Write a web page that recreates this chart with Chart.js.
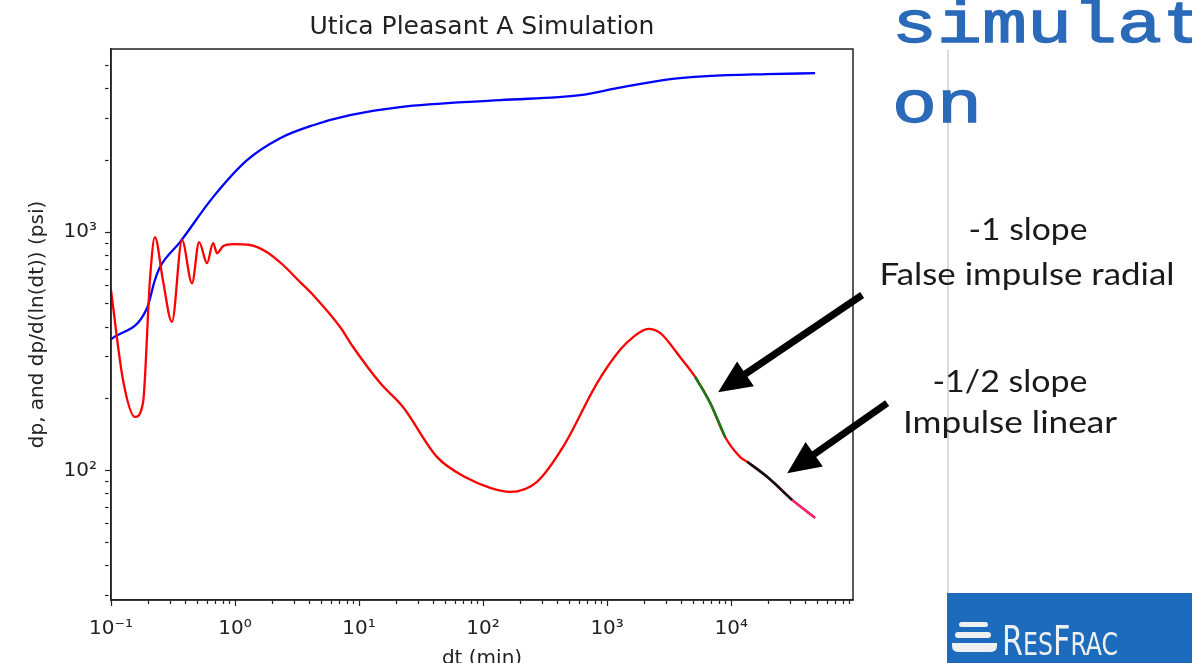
<!DOCTYPE html>
<html><head><meta charset="utf-8">
<script src="https://cdn.jsdelivr.net/npm/chart.js@4/dist/chart.umd.min.js"></script>
<style>
html,body{margin:0;padding:0;background:#fff;width:1192px;height:663px;overflow:hidden}
#wrap{position:relative;width:1192px;height:663px}
#c{position:absolute;left:0;top:0}
#ov{position:absolute;left:0;top:0;pointer-events:none}
</style></head><body>
<div id="wrap">
<canvas id="c" width="1192" height="663"></canvas>
<svg id="ov" width="1192" height="663" xmlns="http://www.w3.org/2000/svg">
  <line x1="948" y1="50" x2="948" y2="594" stroke="#cfcfcf" stroke-width="1.5"/>
  <g fill="#2a6ab9" stroke="#2a6ab9" stroke-width="1.6" font-family="'Liberation Mono', monospace" font-weight="normal" font-size="75">
    <text transform="translate(892,42) scale(1,0.8)">simulati</text>
    <text transform="translate(892,122) scale(1,0.8)">on</text>
  </g>
  <g fill="#1a1a1a" font-family="Lato, 'Open Sans', sans-serif" font-size="30" text-anchor="middle">
    <text x="1028" y="240" textLength="119" lengthAdjust="spacingAndGlyphs">-1 slope</text>
    <text x="1027" y="285" textLength="295" lengthAdjust="spacingAndGlyphs">False impulse radial</text>
    <text x="1010" y="392" textLength="155" lengthAdjust="spacingAndGlyphs">-1/2 slope</text>
    <text x="1010" y="433" textLength="214" lengthAdjust="spacingAndGlyphs">Impulse linear</text>
  </g>
  <rect x="947" y="593" width="245" height="70" fill="#1c6bbd"/>
  <g fill="#eef0f2">
    <rect x="959" y="622" width="29" height="5" rx="2.5"/>
    <rect x="955" y="632" width="36" height="6" rx="3"/>
    <path d="M952 643 H997 V646 Q997 652 990 652 H959 Q952 652 952 646 Z"/>
  </g>
  <text x="1002" y="655" fill="#eef0f2" font-family="'DejaVu Sans Condensed', Roboto, sans-serif" textLength="116" lengthAdjust="spacingAndGlyphs"><tspan font-size="41">R</tspan><tspan font-size="32">ES</tspan><tspan font-size="41">F</tspan><tspan font-size="32">RAC</tspan></text>
</svg>
</div>
<script>
// ---- data ----
const dtBlue = [0.1, 0.195, 0.226, 0.248, 0.36, 0.665, 1.25, 2.31, 4.26, 8.46, 21.4, 137, 606, 1204, 2831, 6400, 19500, 47500];
const dpBlue = [355, 480, 630, 713, 908, 1402, 2004, 2477, 2806, 3090, 3343, 3574, 3751, 4010, 4338, 4505, 4594, 4636];

const dtRed = [0.1, 0.125, 0.156, 0.181, 0.206, 0.226, 0.262, 0.310, 0.374, 0.450, 0.513, 0.595, 0.665, 0.716, 0.800, 0.964,
  1.32, 1.81, 2.44, 3.34, 4.26, 7.03, 8.95, 14.8, 22.6, 42.6, 74.3, 114, 165, 272, 442, 830, 1273, 1622, 2143, 2675, 3880,
  5130, 6780, 8960, 11830, 13460, 19500, 31000, 47500];
const derivRed = [571, 240, 168, 192, 630, 953, 630, 420, 925, 611, 908, 741, 900, 816, 873, 891,
  883, 824, 728, 618, 545, 400, 330, 233, 185, 114, 93.1, 84.7, 81.5, 89.8, 126, 233, 321, 363, 393, 378, 299,
  247, 192, 138, 114, 109, 94.2, 75.4, 63.4];

const dtGreen = [5130, 6780, 8960];
const derivGreen = [247, 192, 138];
const dtBlack = [13460, 19500, 31000];
const derivBlack = [109, 94.2, 75.4];
const dtPink = [31000, 47500];
const derivPink = [75.4, 63.4];

const xMajorTicks = [0.1, 1, 10, 100, 1000, 10000];
const xTickLabels = ['10\u207B\u00B9', '10\u2070', '10\u00B9', '10\u00B2', '10\u00B3', '10\u2074'];
const yMajorTicks = [100, 1000];
const yTickLabels = ['10\u00B2', '10\u00B3'];
const xRange = [0.1, 96000];
const yRange = [28.7, 5856];

// annotation arrows (data coordinates: tail -> tip)
const arrowTails = [[113800, 545], [181000, 192]];
const arrowTips = [[7850, 213], [28300, 97.5]];

// ---- helpers ----
const pts = (xs, ys) => xs.map((x, i) => ({x, y: ys[i]}));
const isMajor = v => Math.abs(Math.log10(v) - Math.round(Math.log10(v))) < 1e-9;
function logTicks(lo, hi) {
  const out = [];
  for (let e = Math.floor(Math.log10(lo)); e <= Math.ceil(Math.log10(hi)); e++) {
    for (let m = 1; m <= 9; m++) {
      const v = m * Math.pow(10, e);
      if (v >= lo * 0.9999 && v <= hi * 1.0001) out.push(+v.toPrecision(6));
    }
  }
  return out;
}
function labelFor(v, majors, labels) {
  const i = majors.findIndex(m => Math.abs(m - v) / m < 1e-6);
  return i >= 0 ? labels[i] : '';
}
const FONT = "'DejaVu Sans', sans-serif";

const framePlugin = {
  id: 'frameArrows',
  afterDraw(chart) {
    const {ctx, chartArea: a, scales: {x, y}} = chart;
    ctx.save();
    ctx.strokeStyle = '#222';
    ctx.lineWidth = 1.5;
    ctx.strokeRect(a.left, a.top, a.right - a.left, a.bottom - a.top);
    ctx.fillStyle = '#000';
    ctx.strokeStyle = '#000';
    for (let i = 0; i < arrowTips.length; i++) {
      const x0 = x.getPixelForValue(arrowTails[i][0]), y0 = y.getPixelForValue(arrowTails[i][1]);
      const x1 = x.getPixelForValue(arrowTips[i][0]), y1 = y.getPixelForValue(arrowTips[i][1]);
      const ang = Math.atan2(y1 - y0, x1 - x0);
      const hl = 33, hw = 15;
      const bx = x1 - hl * Math.cos(ang), by = y1 - hl * Math.sin(ang);
      ctx.lineWidth = 7;
      ctx.lineCap = 'butt';
      ctx.beginPath(); ctx.moveTo(x0, y0); ctx.lineTo(bx + 2 * Math.cos(ang), by + 2 * Math.sin(ang)); ctx.stroke();
      ctx.beginPath();
      ctx.moveTo(x1, y1);
      ctx.lineTo(bx - hw * Math.sin(ang), by + hw * Math.cos(ang));
      ctx.lineTo(bx + hw * Math.sin(ang), by - hw * Math.cos(ang));
      ctx.closePath(); ctx.fill();
    }
    ctx.restore();
  }
};

const axisCommon = (majors, labels, range) => ({
  type: 'logarithmic',
  min: range[0], max: range[1],
  grid: {
    display: true, drawOnChartArea: false, drawTicks: true, tickLength: 6,
    tickColor: '#222', tickWidth: 1.2,
    tickBorderDash: ctx => (ctx.tick && !isMajor(ctx.tick.value)) ? [3.5, 100] : []
  },
  border: {display: true, color: '#222', width: 1.5},
  afterBuildTicks: s => { s.ticks = logTicks(range[0], range[1]).map(v => ({value: v, major: false})); },
  ticks: {
    autoSkip: false, maxRotation: 0, minRotation: 0,
    color: '#222', font: {family: FONT, size: 20},
    callback: v => labelFor(v, majors, labels)
  }
});

const xAxis = axisCommon(xMajorTicks, xTickLabels, xRange);
xAxis.position = 'bottom';
xAxis.ticks.padding = 11;
xAxis.afterFit = s => { s.height = 63; };
xAxis.title = {display: true, text: 'dt (min)', color: '#222', font: {family: FONT, size: 20}, padding: {top: 0, bottom: -8}};

const yAxis = axisCommon(yMajorTicks, yTickLabels, yRange);
yAxis.position = 'left';
yAxis.ticks.padding = 8;
yAxis.afterFit = s => { s.width = 111; };
yAxis.title = {display: true, text: 'dp, and dp/d(ln(dt)) (psi)', color: '#222', font: {family: FONT, size: 20}, padding: {top: 26, bottom: 0}};

const line = (data, color, w, order) => ({
  data, borderColor: color, backgroundColor: color, borderWidth: w, order,
  pointRadius: 0, fill: false, cubicInterpolationMode: 'monotone'
});

new Chart(document.getElementById('c'), {
  type: 'line',
  data: {
    datasets: [
      line(pts(dtBlue, dpBlue), '#0000ff', 2.3, 3),
      line(pts(dtRed, derivRed), '#ff0000', 2.3, 2),
      line(pts(dtGreen, derivGreen), '#1a7a1a', 2.6, 1),
      line(pts(dtBlack, derivBlack), '#111111', 2.6, 1),
      line(pts(dtPink, derivPink), '#f2286e', 2.3, 1)
    ]
  },
  options: {
    responsive: false, animation: false, devicePixelRatio: 1,
    layout: {padding: {left: 0, top: 0, right: 339, bottom: 0}},
    plugins: {
      legend: {display: false}, tooltip: {enabled: false},
      title: {
        display: true, text: 'Utica Pleasant A Simulation', fullSize: false,
        color: '#222', font: {family: FONT, size: 25, weight: 'normal'},
        padding: {top: 12.5, bottom: 6.5}
      }
    },
    scales: {x: xAxis, y: yAxis}
  },
  plugins: [framePlugin]
});
</script>
</body></html>
